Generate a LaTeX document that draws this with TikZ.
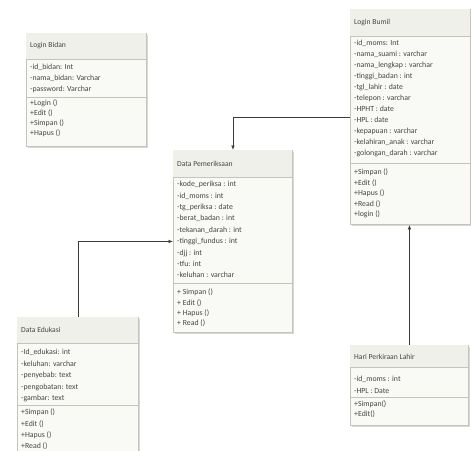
\documentclass[tikz,border=0pt]{standalone}
\usepackage{fontspec}
\setmainfont{Carlito}
\usetikzlibrary{arrows.meta,shadows}
\definecolor{boxfill}{HTML}{F9F9F6}
\definecolor{titlefill}{HTML}{F0F0EA}
\definecolor{boxline}{HTML}{C4C4BA}
\definecolor{txtcol}{HTML}{454545}
\definecolor{conncol}{HTML}{3A3A3A}
\tikzset{
  cbox/.style={draw=boxline, fill=boxfill, line width=0.9pt, inner sep=0pt,
    anchor=north west, drop shadow={opacity=0.3, shadow xshift=1.3pt, shadow yshift=-1.3pt}},
  sepline/.style={draw=boxline, line width=0.8pt},
  ttl/.style={anchor=west, inner sep=0pt, text=txtcol, font=\fontsize{7.6}{8}\selectfont},
  attr/.style={anchor=north west, inner sep=0pt, align=left, text=txtcol},
  conn/.style={draw=conncol, line width=0.8pt, -{Latex[length=4.5pt,width=3.6pt]}}
}
\begin{document}
\begin{tikzpicture}[x=1pt,y=-1pt]
\useasboundingbox (0,0) rectangle (471,450);
\fill[white] (0,0) rectangle (471,450);

% ---------- Login Bidan ----------
\node[cbox, minimum width=120pt, minimum height=113pt] (bidan) at (26,33) {};
\fill[titlefill] ([shift={(0.45pt,-0.45pt)}]bidan.north west) rectangle (145.55,59);
\draw[sepline] (26,59) -- (146,59);
\draw[sepline] (26,97) -- (146,97);
\node[ttl] (bidanT) at (30,46) {Login Bidan};
\node[attr, font=\fontsize{7.8}{11}\selectfont] (bidanA) at (30,64)
  {-id\_bidan: Int\\-nama\_bidan: Varchar\\-password: Varchar};
\node[attr, font=\fontsize{7.8}{10}\selectfont] (bidanM) at (30,100)
  {+Login ()\\+Edit ()\\+Simpan ()\\+Hapus ()};

% ---------- Login Bumil ----------
\node[cbox, minimum width=120pt, minimum height=215pt] (bumil) at (350,9) {};
\fill[titlefill] ([shift={(0.45pt,-0.45pt)}]bumil.north west) rectangle (469.55,36);
\draw[sepline] (350,36) -- (470,36);
\draw[sepline] (350,163) -- (470,163);
\node[ttl] (bumilT) at (354,23) {Login Bumil};
\node[attr, font=\fontsize{7.8}{11}\selectfont] (bumilA) at (354,40)
  {-id\_moms: Int\\-nama\_suami : varchar\\-nama\_lengkap : varchar\\-tinggi\_badan : int\\-tgl\_lahir : date\\-telepon : varchar\\-HPHT : date\\-HPL : date\\-kepapuan : varchar\\-kelahiran\_anak : varchar\\-golongan\_darah : varchar};
\node[attr, font=\fontsize{7.8}{10.5}\selectfont] (bumilM) at (354,169)
  {+Simpan ()\\+Edit ()\\+Hapus ()\\+Read ()\\+login ()};

% ---------- Data Pemeriksaan ----------
\node[cbox, minimum width=119pt, minimum height=182pt] (pem) at (173,150) {};
\fill[titlefill] ([shift={(0.45pt,-0.45pt)}]pem.north west) rectangle (291.55,177);
\draw[sepline] (173,177) -- (292,177);
\draw[sepline] (173,283) -- (292,283);
\node[ttl] (pemT) at (177,164) {Data Pemeriksaan};
\node[attr, font=\fontsize{7.8}{11.4}\selectfont] (pemA) at (177,181)
  {-kode\_periksa : int\\-id\_moms : int\\-tg\_periksa : date\\-berat\_badan : int\\-tekanan\_darah : int\\-tinggi\_fundus : int\\-djj : int\\-tfu: int\\-keluhan : varchar};
\node[attr, font=\fontsize{7.8}{10.3}\selectfont] (pemM) at (177,289)
  {+ Simpan ()\\+ Edit ()\\+ Hapus ()\\+ Read ()};

% ---------- Data Edukasi ----------
\node[cbox, minimum width=121pt, minimum height=135pt] (edu) at (17,317) {};
\fill[titlefill] ([shift={(0.45pt,-0.45pt)}]edu.north west) rectangle (137.55,343);
\draw[sepline] (17,343) -- (138,343);
\draw[sepline] (17,405) -- (138,405);
\node[ttl] (eduT) at (21,330) {Data Edukasi};
\node[attr, font=\fontsize{7.8}{11.5}\selectfont] (eduA) at (21,349)
  {-Id\_edukasi: int\\-keluhan: varchar\\-penyebab: text\\-pengobatan: text\\-gambar: text};
\node[attr, font=\fontsize{7.8}{11.3}\selectfont] (eduM) at (21,409)
  {+Simpan ()\\+Edit ()\\+Hapus ()\\+Read ()};

% ---------- Hari Perkiraan Lahir ----------
\node[cbox, minimum width=118pt, minimum height=80pt] (hari) at (350,345) {};
\fill[titlefill] ([shift={(0.45pt,-0.45pt)}]hari.north west) rectangle (467.55,367);
\draw[sepline] (350,367) -- (468,367);
\draw[sepline] (350,397) -- (468,397);
\node[ttl] (hariT) at (354,357) {Hari Perkiraan Lahir};
\node[attr, font=\fontsize{7.8}{12}\selectfont] (hariA) at (354,376)
  {-id\_moms : int\\-HPL : Date};
\node[attr, font=\fontsize{7.8}{9.5}\selectfont] (hariM) at (354,401)
  {+Simpan()\\+Edit()};

% ---------- connectors ----------
\draw[conn] (bumil.west) -| (pem.north);
\draw[conn] (edu.north) |- (pem.west);
\draw[conn] (hari.north) -- (hari.north |- bumil.south);
\end{tikzpicture}
\end{document}
